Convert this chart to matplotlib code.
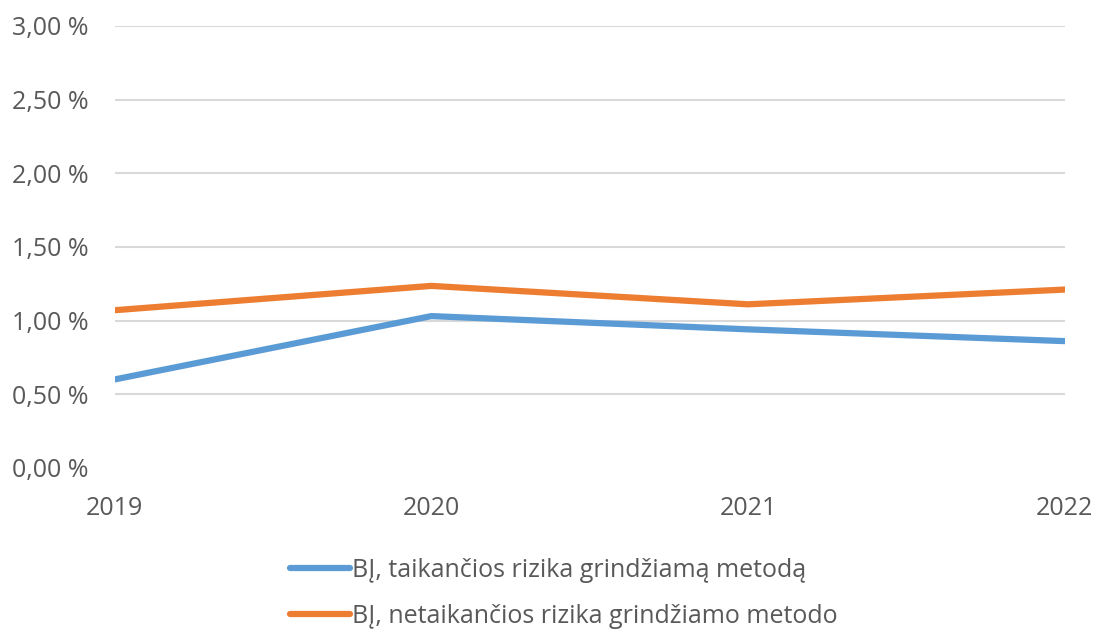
import matplotlib.pyplot as plt
from matplotlib.ticker import FuncFormatter

plt.rcParams['font.family'] = ['Open Sans', 'DejaVu Sans']

# Data
years = [2019, 2020, 2021, 2022]
taikancios = [0.60, 1.03, 0.94, 0.86]
netaikancios = [1.07, 1.235, 1.11, 1.21]
yticks = [0, 0.5, 1.0, 1.5, 2.0, 2.5, 3.0]
labels = ["BĮ, taikančios rizika grindžiamą metodą",
          "BĮ, netaikančios rizika grindžiamo metodo"]

text_color = "#595959"

fig = plt.figure(figsize=(10.93, 6.33), dpi=100)
ax = fig.add_axes([0.105, 0.261, 0.869, 0.698])

ax.plot(years, taikancios, color="#5b9bd5", lw=4.5, solid_capstyle="round",
        label=labels[0], zorder=3)
ax.plot(years, netaikancios, color="#ed7d31", lw=4.5, solid_capstyle="round",
        label=labels[1], zorder=3)

ax.set_xlim(years[0], years[-1])
ax.set_ylim(0, 3)
ax.set_xticks(years)
ax.set_yticks(yticks)
ax.yaxis.set_major_formatter(FuncFormatter(lambda v, p: f"{v:.2f} %".replace(".", ",")))
# gridlines, no line at zero
ax.hlines(yticks[1:], years[0], years[-1], color="#d9d9d9", lw=1.5, zorder=1)
for s in ax.spines.values():
    s.set_visible(False)
ax.tick_params(length=0, labelsize=18, colors=text_color)
ax.tick_params(axis="x", pad=20)
ax.tick_params(axis="y", pad=19)

leg = fig.legend(loc="upper center", bbox_to_anchor=(0.516, 0.135), ncol=1,
                 frameon=False, fontsize=18, handlelength=2.4, handletextpad=0.1,
                 labelspacing=0.85, borderaxespad=0)
for t in leg.get_texts():
    t.set_color(text_color)

fig.savefig("out.png", dpi=100)
